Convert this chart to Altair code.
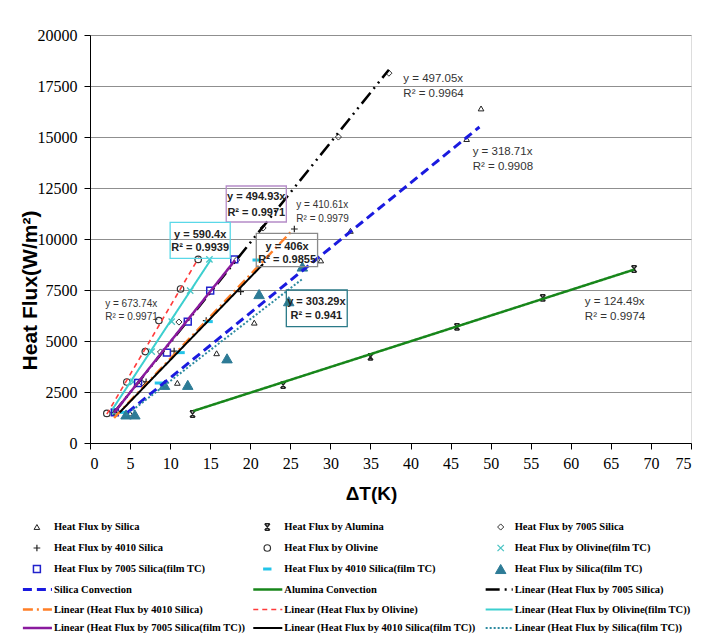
import altair as alt
import pandas as pd

silica_x = [5.0, 10.9, 15.8, 20.5, 28.8, 32.5, 47.0, 48.8]
silica_y = [1450, 2950, 4400, 5900, 8950, 10400, 14900, 16400]
alumina_x = [12.8, 24.1, 35.0, 45.8, 56.5, 67.9]
alumina_y = [1420, 2840, 4220, 5690, 7110, 8530]
s7005_x = [3.0, 6.5, 8.8, 11.1, 18.3, 21.6, 31.0, 37.3]
s7005_y = [1500, 2950, 4460, 5930, 8970, 10540, 15000, 18130]
s4010_x = [3.0, 7.0, 10.5, 14.5, 18.8, 25.5]
s4010_y = [1500, 3000, 4500, 6000, 7420, 10490]
olivine_x = [2.1, 4.6, 6.9, 8.6, 11.3, 13.5]
olivine_y = [1450, 2990, 4480, 6000, 7550, 9000]
olivine_tc_x = [3.0, 5.4, 7.7, 10.2, 12.5, 14.9]
olivine_tc_y = [1500, 3000, 4480, 5950, 7470, 9000]
s7005_tc_x = [3.1, 6.0, 9.6, 12.2, 15.0, 18.0]
s7005_tc_y = [1500, 2940, 4430, 5950, 7470, 9000]
s4010_tc_x = [4.0, 8.6, 11.3, 14.8, 20.8]
s4010_tc_y = [1500, 2940, 4430, 5950, 8970]
silica_tc_x = [4.5, 5.6, 9.3, 12.2, 17.1, 21.1, 24.8, 26.5]
silica_tc_y = [1400, 1400, 2850, 2850, 4150, 7300, 6950, 8650]

# convection / trend lines (end points)
silica_conv_x = [4.7, 48.6]
silica_conv_y = [1500, 15490]
alumina_conv_x = [12.9, 67.9]
alumina_conv_y = [1570, 8500]
fit_7005_x = [3.0, 37.3]
fit_7005_y = [1490, 18300]
fit_4010_x = [3.0, 25.3]
fit_4010_y = [1230, 10440]
fit_olivine_x = [2.1, 13.6]
fit_olivine_y = [1415, 9100]
fit_olivine_tc_x = [2.8, 15.1]
fit_olivine_tc_y = [1650, 9000]
fit_7005_tc_x = [3.0, 18.1]
fit_7005_tc_y = [1485, 8960]
fit_4010_tc_x = [3.7, 21.6]
fit_4010_tc_y = [1500, 8770]
fit_silica_tc_x = [4.5, 26.5]
fit_silica_tc_y = [1365, 8040]

x_ticks = list(range(0, 80, 5))
y_ticks = list(range(0, 22500, 2500))

point_names = [
    "Heat Flux by Silica", "Heat Flux by Alumina", "Heat Flux by 7005 Silica",
    "Heat Flux by 4010 Silica", "Heat Flux by Olivine", "Heat Flux by Olivine(film TC)",
    "Heat Flux by 7005 Silica(film TC)", "Heat Flux by 4010 Silica(film TC)",
    "Heat Flux by Silica(film TC)",
]
line_names = [
    "Silica Convection", "Alumina Convection", "Linear (Heat Flux by 7005 Silica)",
    "Linear (Heat Flux by 4010 Silica)", "Linear (Heat Flux by Olivine)",
    "Linear (Heat Flux by Olivine(film TC))", "Linear (Heat Flux by 7005 Silica(film TC))",
    "Linear (Heat Flux by 4010 Silica(film TC))", "Linear (Heat Flux by Silica(film TC))",
]
point_series = [
    (silica_x, silica_y), (alumina_x, alumina_y), (s7005_x, s7005_y),
    (s4010_x, s4010_y), (olivine_x, olivine_y), (olivine_tc_x, olivine_tc_y),
    (s7005_tc_x, s7005_tc_y), (s4010_tc_x, s4010_tc_y), (silica_tc_x, silica_tc_y),
]
line_series = [
    (silica_conv_x, silica_conv_y), (alumina_conv_x, alumina_conv_y),
    (fit_7005_x, fit_7005_y), (fit_4010_x, fit_4010_y), (fit_olivine_x, fit_olivine_y),
    (fit_olivine_tc_x, fit_olivine_tc_y), (fit_7005_tc_x, fit_7005_tc_y),
    (fit_4010_tc_x, fit_4010_tc_y), (fit_silica_tc_x, fit_silica_tc_y),
]

# annotation texts
ann_plain = [
    ("y = 497.05x", "R\u00b2 = 0.9964", 39.1, 17843, 17108, 11.5),
    ("y = 318.71x", "R\u00b2 = 0.9908", 47.75, 14265, 13530, 11.5),
    ("y = 124.49x", "R\u00b2 = 0.9974", 61.75, 6912, 6176, 11.5),
    ("y = 673.74x", "R\u00b2 = 0.9971", 1.9, 6814, 6176, 10),
    ("y = 410.61x", "R\u00b2 = 0.9979", 25.75, 11667, 10980, 10),
]
ann_boxed = [
    ("y = 494.93x", "R\u00b2 = 0.9971", 20.75, 12059, 11275, 17.0, 24.5, 10833, 12598, "#b58cc8"),
    ("y = 590.4x", "R\u00b2 = 0.9939", 13.75, 10196, 9559, 10.0, 17.5, 9054, 10819, "#5ad8e8"),
    ("y = 406x", "R\u00b2 = 0.9855", 24.6, 9608, 8971, 20.75, 28.4, 8643, 10280, "#8a8a8a"),
    ("y = 303.29x", "R\u00b2 = 0.941", 28.25, 6912, 6226, 24.5, 32.1, 5701, 7500, "#2a7a88"),
]

# ---------------- styles ----------------
pt_style = {
    "Heat Flux by Silica": ("triangle-up", "#222222", "transparent", 32, 1.0),
    "Heat Flux by Alumina": ("M-0.8,-1H0.8M-0.8,1H0.8M-0.8,-1L0.8,1M0.8,-1L-0.8,1", "#222222", "transparent", 40, 1.5),
    "Heat Flux by 7005 Silica": ("diamond", "#333333", "transparent", 38, 1.0),
    "Heat Flux by 4010 Silica": ("M-1,0H1M0,-1V1", "#222222", "transparent", 45, 1.2),
    "Heat Flux by Olivine": ("circle", "#333333", "transparent", 42, 1.2),
    "Heat Flux by Olivine(film TC)": ("M-1,-1L1,1M1,-1L-1,1", "#4cc4c4", "transparent", 40, 1.3),
    "Heat Flux by 7005 Silica(film TC)": ("square", "#2222cc", "transparent", 48, 1.5),
    "Heat Flux by 4010 Silica(film TC)": ("M-1,0H1", "#22c4e8", "transparent", 70, 3.0),
    "Heat Flux by Silica(film TC)": ("triangle-up", "#2d7b96", "#2d7b96", 110, 1.0),
}
ln_style = {
    "Silica Convection": ("#1a1adf", [9, 5], 3.0),
    "Alumina Convection": ("#17861a", [1, 0], 2.5),
    "Linear (Heat Flux by 7005 Silica)": ("#000000", [14, 5, 2, 5, 2, 5], 2.5),
    "Linear (Heat Flux by 4010 Silica)": ("#ff7f27", [10, 4, 2, 4], 2.5),
    "Linear (Heat Flux by Olivine)": ("#ff3b3b", [5, 4], 1.6),
    "Linear (Heat Flux by Olivine(film TC))": ("#3ccfcf", [1, 0], 2.0),
    "Linear (Heat Flux by 7005 Silica(film TC))": ("#8a1a9e", [1, 0], 2.5),
    "Linear (Heat Flux by 4010 Silica(film TC))": ("#000000", [1, 0], 2.0),
    "Linear (Heat Flux by Silica(film TC))": ("#2d8aa0", [2, 2], 2.0),
}

all_names = point_names + line_names
stroke_scale = alt.Scale(domain=all_names,
                         range=[pt_style[n][1] for n in point_names] + [ln_style[n][0] for n in line_names])
shape_scale = alt.Scale(domain=point_names, range=[pt_style[n][0] for n in point_names])
fill_scale = alt.Scale(domain=point_names, range=[pt_style[n][2] for n in point_names])
dash_scale = alt.Scale(domain=line_names, range=[ln_style[n][1] for n in line_names])

# ---------------- tables ----------------
pts = pd.DataFrame([
    {"series": n, "x": a, "y": b, "sz": pt_style[n][3], "sw": pt_style[n][4]}
    for n, (xs, ys) in zip(point_names, point_series) for a, b in zip(xs, ys)
])
lns = pd.DataFrame([
    {"series": n, "x": a, "y": b, "sw": ln_style[n][2]}
    for n, (xs, ys) in zip(line_names, line_series) for a, b in zip(xs, ys)
])

# legend grid (3 columns x 6 rows below the plot, expressed in the plot's data units)
def px_x(p):
    return (p - 90) / 8.0

def px_y(p):
    return (443 - p) * 20000 / 408.0

legend_order = [
    point_names[0], point_names[1], point_names[2],
    point_names[3], point_names[4], point_names[5],
    point_names[6], point_names[7], point_names[8],
    line_names[0], line_names[1], line_names[2],
    line_names[3], line_names[4], line_names[5],
    line_names[6], line_names[7], line_names[8],
]
col_sym = [37, 267, 500]
col_l1 = [23, 253, 485]
col_l2 = [52, 282, 512]
col_txt = [54, 284, 514]
row_y = [527, 548, 569, 589.5, 609.5, 628]
leg = []
for i, n in enumerate(legend_order):
    r, c = divmod(i, 3)
    leg.append({
        "series": n, "xs": px_x(col_sym[c]), "x1": px_x(col_l1[c]), "x2": px_x(col_l2[c]),
        "xt": px_x(col_txt[c]), "y": px_y(row_y[r]),
        "sz": pt_style[n][3] if n in pt_style else 0,
        "sw": pt_style[n][4] if n in pt_style else ln_style[n][2],
        "kind": "pt" if n in pt_style else "ln",
    })
leg = pd.DataFrame(leg)

ann_rows = []
for t1, t2, ax, y1, y2, fs in ann_plain:
    ann_rows.append({"t": t1, "x": ax, "y": y1, "fs": fs})
    ann_rows.append({"t": t2, "x": ax, "y": y2, "fs": fs})
ann_plain_df = pd.DataFrame(ann_rows)
ann_rows = []
box_rows = []
for t1, t2, ax, y1, y2, bx1, bx2, by1, by2, col in ann_boxed:
    ann_rows.append({"t": t1, "x": ax, "y": y1})
    ann_rows.append({"t": t2, "x": ax, "y": y2})
    box_rows.append({"x": bx1, "x2": bx2, "y": by1, "y2": by2, "c": col})
ann_box_df = pd.DataFrame(ann_rows)
box_df = pd.DataFrame(box_rows)

# ---------------- chart ----------------
xs = alt.Scale(domain=[0, 75], nice=False)
ys = alt.Scale(domain=[0, 20000], nice=False)
SERIF = "'Liberation Serif', 'Times New Roman', serif"
SANS = "'Liberation Sans', Arial, sans-serif"
NARROW = "'Liberation Sans Narrow', 'Arial Narrow', 'Liberation Sans', sans-serif"

x_axis = alt.Axis(values=x_ticks, grid=False, domainColor="#000", tickColor="#000", tickSize=6,
                  labelFont=SERIF, labelFontSize=16, labelColor="#000", labelPadding=6,
                  title="\u0394T(K)", titleFont=SANS, titleFontSize=19, titleFontWeight="bold",
                  titleColor="#000", titleX=281, titleY=50, titleBaseline="middle", titleAlign="center")
y_axis = alt.Axis(values=y_ticks, grid=True, gridColor="#8f8f8f", gridWidth=1, format="d",
                  domainColor="#000", tickColor="#000", tickSize=6,
                  labelFont=SERIF, labelFontSize=16, labelColor="#000", labelPadding=7,
                  title="Heat Flux(W/m\u00b2)", titleFont=SANS, titleFontSize=21, titleFontWeight="bold",
                  titleColor="#000", titleX=-60, titleY=255, titleBaseline="middle", titleAlign="center",
                  titleAngle=270)

base_pts = alt.Chart(pts).mark_point(filled=True, opacity=1).encode(
    x=alt.X("x:Q", scale=xs, axis=x_axis),
    y=alt.Y("y:Q", scale=ys, axis=y_axis),
    shape=alt.Shape("series:N", scale=shape_scale, legend=None),
    stroke=alt.Stroke("series:N", scale=stroke_scale, legend=None),
    fill=alt.Fill("series:N", scale=fill_scale, legend=None),
    size=alt.Size("sz:Q", scale=None, legend=None),
    strokeWidth=alt.StrokeWidth("sw:Q", scale=None, legend=None),
)

lines = alt.Chart(lns).mark_line().encode(
    x=alt.X("x:Q", scale=xs),
    y=alt.Y("y:Q", scale=ys),
    detail="series:N",
    stroke=alt.Stroke("series:N", scale=stroke_scale, legend=None),
    strokeDash=alt.StrokeDash("series:N", scale=dash_scale, legend=None),
    strokeWidth=alt.StrokeWidth("sw:Q", scale=None, legend=None),
)

plain_txt = alt.Chart(ann_plain_df).mark_text(align="left", baseline="middle", font=NARROW,
                                              color="#333333").encode(
    x=alt.X("x:Q", scale=xs), y=alt.Y("y:Q", scale=ys), text="t:N",
    size=alt.Size("fs:Q", scale=None, legend=None))

boxes = alt.Chart(box_df).mark_rect(fillOpacity=0, strokeWidth=1.3).encode(
    x=alt.X("x:Q", scale=xs), x2="x2:Q", y=alt.Y("y:Q", scale=ys), y2="y2:Q",
    stroke=alt.Stroke("c:N", scale=None, legend=None))

box_txt = alt.Chart(ann_box_df).mark_text(align="center", baseline="middle", font=NARROW,
                                          fontSize=11, fontWeight="bold", color="#222222").encode(
    x=alt.X("x:Q", scale=xs), y=alt.Y("y:Q", scale=ys), text="t:N")

leg_pts = alt.Chart(leg).transform_filter(alt.datum.kind == "pt").mark_point(filled=True, opacity=1).encode(
    x=alt.X("xs:Q", scale=xs), y=alt.Y("y:Q", scale=ys),
    shape=alt.Shape("series:N", scale=shape_scale, legend=None),
    stroke=alt.Stroke("series:N", scale=stroke_scale, legend=None),
    fill=alt.Fill("series:N", scale=fill_scale, legend=None),
    size=alt.Size("sz:Q", scale=None, legend=None),
    strokeWidth=alt.StrokeWidth("sw:Q", scale=None, legend=None),
)
leg_lns = alt.Chart(leg).transform_filter(alt.datum.kind == "ln").mark_rule().encode(
    x=alt.X("x1:Q", scale=xs), x2="x2:Q", y=alt.Y("y:Q", scale=ys),
    stroke=alt.Stroke("series:N", scale=stroke_scale, legend=None),
    strokeDash=alt.StrokeDash("series:N", scale=dash_scale, legend=None),
    strokeWidth=alt.StrokeWidth("sw:Q", scale=None, legend=None),
)
leg_txt = alt.Chart(leg).mark_text(align="left", baseline="middle", font=SERIF, fontSize=10.5,
                                   fontWeight="bold", color="#000").encode(
    x=alt.X("xt:Q", scale=xs), y=alt.Y("y:Q", scale=ys), text="series:N")

chart = alt.layer(base_pts, lines, boxes, plain_txt, box_txt, leg_lns, leg_pts, leg_txt).properties(
    width=601, height=408,
    padding={"left": 82, "top": 27, "right": 10, "bottom": 190},
    autosize=alt.AutoSizeParams(type="none"),
).configure_view(stroke="#9a9a9a", strokeWidth=1).configure(background="white")

chart.save("out.html", embed_options={"renderer": "svg", "actions": False})
